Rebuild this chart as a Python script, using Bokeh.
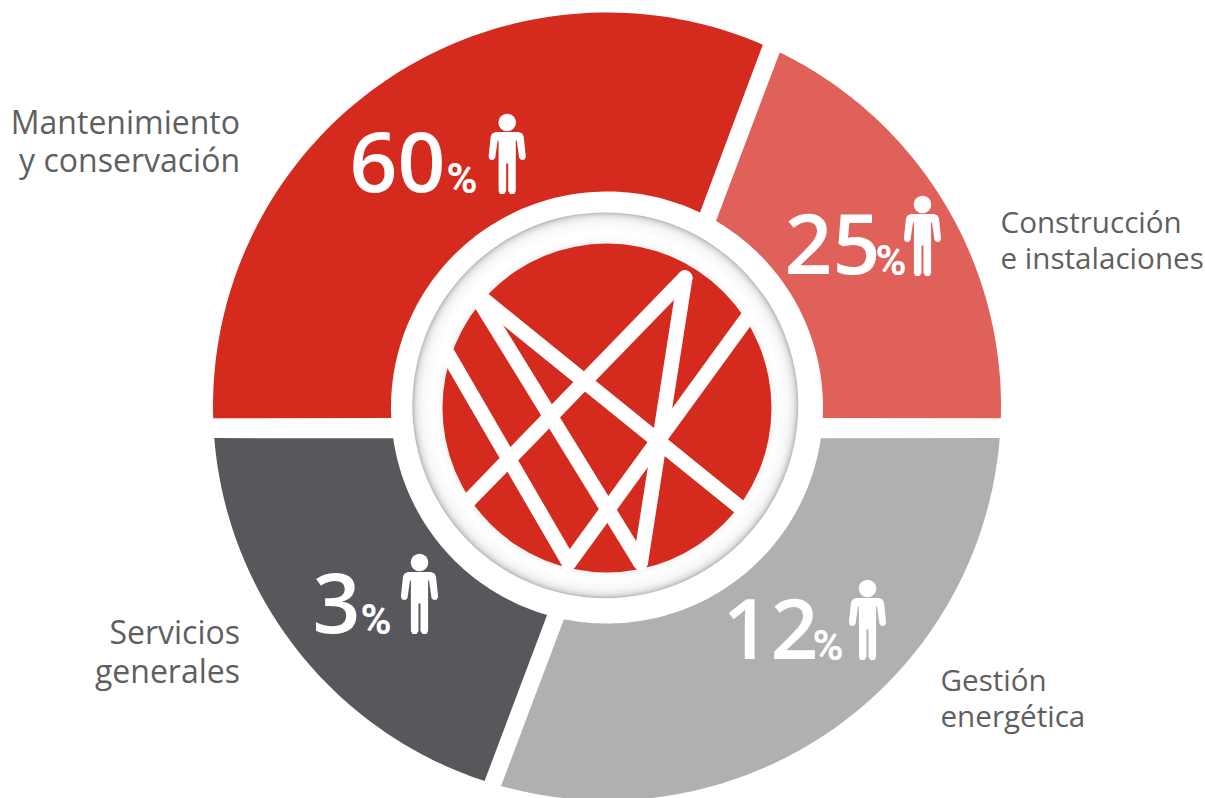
from bokeh.plotting import figure
from bokeh.embed import file_html
from bokeh.resources import INLINE
from bokeh.core.properties import value
import math

categories = ["Construcción e instalaciones", "Mantenimiento y conservación", "Servicios generales", "Gestión energética"]
shares = [25, 60, 3, 12]
colors = ["#E0615A", "#D52B1F", "#58585C", "#B0B0B0"]
outer_start = [-1.7, 66.7, 184.6, 254.4]
outer_end = [64.0, 181.7, 251.9, 355.4]
inner_start = [-2.8, 64.5, 188.2, 258.5]
inner_end = [59.7, 182.8, 253.9, 351.8]

W, H = 1205, 798
RED = "#D52B1F"
GREY_TXT = "#5F5F61"
FONT = "Open Sans"
BASE_FIX = 0.385


def Y(py):
    return 798 - py


p = figure(width=W, height=H, x_range=(0, 1205), y_range=(0, 798),
           output_backend="svg", toolbar_location=None, min_border=0,
           outline_line_color=None, background_fill_color="white", border_fill_color="white")
p.axis.visible = False
p.grid.visible = False

# ring sectors
cx_o, cy_o, r_o = 606.5, 406, 394
cx_i, cy_i, r_i = 606.5, 407, 216


def arc(cx, cy, r, a0, a1, n=90):
    pts = [math.radians(a0 + (a1 - a0) * k / n) for k in range(n + 1)]
    return [cx + r * math.cos(t) for t in pts], [Y(cy) + r * math.sin(t) for t in pts]


xs, ys = [], []
for os_, oe, is_, ie in zip(outer_start, outer_end, inner_start, inner_end):
    ox, oy = arc(cx_o, cy_o, r_o, os_, oe)
    ix, iy = arc(cx_i, cy_i, r_i, ie, is_)
    xs.append(ox + ix)
    ys.append(oy + iy)
p.patches(xs, ys, fill_color=colors, line_color=None)

# shadowed medallion
steps = [(193.0, "#BDBDBD"), (192.0, "#CACACA"), (191.0, "#D6D6D6"), (190.0, "#DFDFDF"), (189.0, "#E6E6E6"),
         (188.0, "#ECECEC"), (186.5, "#F1F1F1"), (185.0, "#F6F6F6"), (183.0, "#F9F9F9"), (180.0, "#FCFCFC"),
         (176.0, "#FFFFFF")]
for r, c in steps:
    p.circle([604.8], [Y(404.8)], radius=r, fill_color=c, line_color=None)
for r, c in [(172.0, "#FDFDFD"), (169.0, "#FAFAFA"), (167.0, "#F5F5F5")]:
    p.circle([606.5], [Y(407.5)], radius=r, fill_color=c, line_color=None)
p.circle([606.5], [Y(407.5)], radius=164.5, fill_color=RED, line_color=None)

# emblem strokes
strokes = [
    ((480, 296.7), (740, 507.3)),
    ((478.7, 300), (640, 562)),
    ((447, 353), (568.5, 562.3)),
    ((468, 500.4), (684.5, 277.3)),
    ((684.5, 277.3), (640, 562)),
    ((746, 318.3), (568.5, 562.3)),
]
for (x0, y0), (x1, y1) in strokes:
    p.line([x0, x1], [Y(y0), Y(y1)], line_color="white", line_width=15, line_cap="round")

# big percentages (left x of digits, baseline, left x of %, head centre)
placement = {
    60: (349, 194, 446, (506.7, 122)),
    25: (784, 276, 875, (922, 204)),
    12: (722, 661, 812, (867, 588)),
    3: (312, 635, 360, (419, 562)),
}
half = [(0.0, 9.5), (11.5, 9.5), (15.0, 11.0), (16.5, 14.0), (18.6, 34.0), (17.5, 37.0), (14.0, 37.6),
        (12.0, 35.5), (9.5, 18.0), (8.6, 18.0), (8.6, 68.5), (7.0, 71.5), (3.0, 71.5), (1.0, 68.5),
        (1.0, 41.0), (0.0, 41.0)]
shape = half + [(-a, b) for a, b in reversed(half)]

for v in shares:
    xd, base, xp, (hx, hy) = placement[v]
    p.text([xd], [Y(base - 84 * BASE_FIX)], text=[str(v)], text_font=value("Open Sans SemiBold"), text_font_size="84px",
           text_color="white", text_baseline="alphabetic", text_align="left")
    p.text([xp], [Y(base - 42 * BASE_FIX)], text=["%"], text_font=value("Roboto"), text_font_size="42px",
           text_font_style="bold", text_color="white", text_baseline="alphabetic", text_align="left")
    p.circle([hx], [Y(hy)], radius=8.8, fill_color="white", line_color=None)
    p.patch([hx + a for a, b in shape], [Y(hy + b) for a, b in shape], fill_color="white", line_color=None)

# category labels
labels = [
    ("Mantenimiento", 239.5, 133, "right", 32.0),
    ("y conservación", 239.5, 171, "right", 32.0),
    ("Servicios", 239.5, 643, "right", 32.0),
    ("generales", 239.5, 682, "right", 32.0),
    ("Construcción", 1000, 232, "left", 29.6),
    ("e instalaciones", 1000, 268, "left", 29.6),
    ("Gestión", 940, 690, "left", 29.6),
    ("energética", 940, 726, "left", 29.6),
]
for t, x, y, al, fs in labels:
    p.text([x], [Y(y - fs * BASE_FIX)], text=[t], text_font=value(FONT), text_font_size=f"{fs}px", text_color=GREY_TXT,
           text_align=al, text_baseline="alphabetic")

open("out.html", "w").write(file_html(p, INLINE))
